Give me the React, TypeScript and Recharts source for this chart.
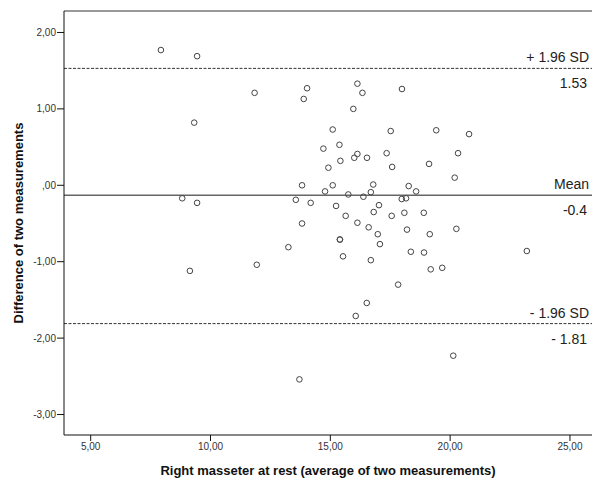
import React from 'react';
import { Label, ReferenceLine, Scatter, ScatterChart, XAxis, YAxis } from 'recharts';

const averages = [
  7.93, 9.44, 11.84, 14.03, 13.89, 9.32, 8.82, 9.44, 13.82, 13.56,
  14.18, 13.82, 13.25, 11.93, 9.14, 13.71, 16.13, 16.34, 17.99, 15.96,
  15.10, 17.52, 19.42, 20.79, 14.71, 15.38, 16.13, 16.0, 15.42, 16.53,
  17.35, 14.92, 17.58, 19.12, 20.33, 20.19, 15.10, 14.78, 16.79, 16.69,
  18.27, 18.58, 15.75, 16.38, 17.98, 18.16, 15.24, 17.03, 16.81, 15.64,
  17.56, 18.09, 18.90, 16.13, 16.60, 16.98, 18.20, 19.15, 20.26, 15.40,
  15.40, 17.07, 15.53, 16.69, 18.36, 18.91, 23.20, 19.19, 19.67, 17.83,
  16.52, 16.06, 20.13,
];
const differences = [
  1.77, 1.69, 1.21, 1.27, 1.13, 0.82, -0.17, -0.23, 0.0, -0.19,
  -0.23, -0.5, -0.81, -1.04, -1.12, -2.54, 1.33, 1.21, 1.26, 1.0,
  0.73, 0.71, 0.72, 0.67, 0.48, 0.53, 0.41, 0.36, 0.32, 0.36,
  0.42, 0.23, 0.24, 0.28, 0.42, 0.1, 0.0, -0.08, 0.01, -0.09,
  -0.01, -0.08, -0.12, -0.15, -0.18, -0.17, -0.27, -0.26, -0.35, -0.4,
  -0.4, -0.36, -0.36, -0.49, -0.55, -0.64, -0.58, -0.64, -0.57, -0.71,
  -0.71, -0.77, -0.93, -0.98, -0.87, -0.88, -0.86, -1.1, -1.08, -1.3,
  -1.54, -1.71, -2.23,
];

const xTicks = [5, 10, 15, 20, 25];
const yTicks = [-3, -2, -1, 0, 1, 2];
const xDomain = [3.886, 25.92];
const yDomain = [-3.268, 2.281];

// limits of agreement (line position, label above, label below)
const meanLine = -0.13;
const upperLimit = 1.53;
const lowerLimit = -1.81;
const lineLabels = [
  ['+ 1.96 SD', '1.53'],
  ['Mean', '-0.4'],
  ['- 1.96 SD', '- 1.81'],
];

const points = averages.map((x, i) => ({ x, y: differences[i] }));

const font = '"Liberation Sans", Arial, sans-serif';

const fmt = (v: number) => {
  if (v === 0) return ',00';
  return v.toFixed(2).replace('.', ',');
};

const lineLabel = (above: string, below: string) => (props: any) => {
  const vb = props.viewBox || {};
  const right = (vb.x ?? 0) + (vb.width ?? 0);
  const y = vb.y ?? 0;
  return (
    <g fontFamily={font} fontSize={14} fill="#222">
      <text x={right - 3} y={y - 6} textAnchor="end">{above}</text>
      <text x={right - 5} y={y + 20} textAnchor="end">{below}</text>
    </g>
  );
};

const Ring = (props: any) => (
  <circle cx={props.cx} cy={props.cy} r={2.8} fill="none" stroke="#444" strokeWidth={1} />
);

export default function App() {
  return (
    <div style={{ position: 'absolute', left: 0, top: 0, background: '#fff' }}>
      <ScatterChart width={592} height={480} margin={{ top: 11, right: 0, bottom: 0, left: 0 }}>
        <XAxis
          type="number"
          dataKey="x"
          domain={xDomain}
          ticks={xTicks}
          allowDataOverflow
          height={45}
          tickSize={6}
          tickFormatter={fmt}
          stroke="#111"
          tick={{ fontSize: 10, fontFamily: font, fill: '#333' }}
        >
          <Label
            content={() => (
              <text x={328} y={475} textAnchor="middle" fontFamily={font} fontSize={13} fontWeight="bold" fill="#111">
                Right masseter at rest (average of two measurements)
              </text>
            )}
          />
        </XAxis>
        <YAxis
          type="number"
          dataKey="y"
          domain={yDomain}
          ticks={yTicks}
          allowDataOverflow
          width={64}
          tickSize={7}
          tickMargin={1}
          tickFormatter={fmt}
          stroke="#111"
          tick={{ fontSize: 10, fontFamily: font, fill: '#333' }}
        >
          <Label
            content={() => (
              <text
                x={23}
                y={223}
                transform="rotate(-90 23 223)"
                textAnchor="middle"
                fontFamily={font}
                fontSize={13}
                fontWeight="bold"
                fill="#111"
              >
                Difference of two measurements
              </text>
            )}
          />
        </YAxis>
        <ReferenceLine y={yDomain[1]} stroke="#777" strokeWidth={1.5} />
        <ReferenceLine y={upperLimit} stroke="#333" strokeDasharray="3 1.5">
          <Label content={lineLabel(lineLabels[0][0], lineLabels[0][1])} />
        </ReferenceLine>
        <ReferenceLine y={meanLine} stroke="#666" strokeWidth={1.5}>
          <Label content={lineLabel(lineLabels[1][0], lineLabels[1][1])} />
        </ReferenceLine>
        <ReferenceLine y={lowerLimit} stroke="#333" strokeDasharray="3 1.5">
          <Label content={lineLabel(lineLabels[2][0], lineLabels[2][1])} />
        </ReferenceLine>
        <Scatter data={points} shape={Ring} isAnimationActive={false} />
      </ScatterChart>
    </div>
  );
}
